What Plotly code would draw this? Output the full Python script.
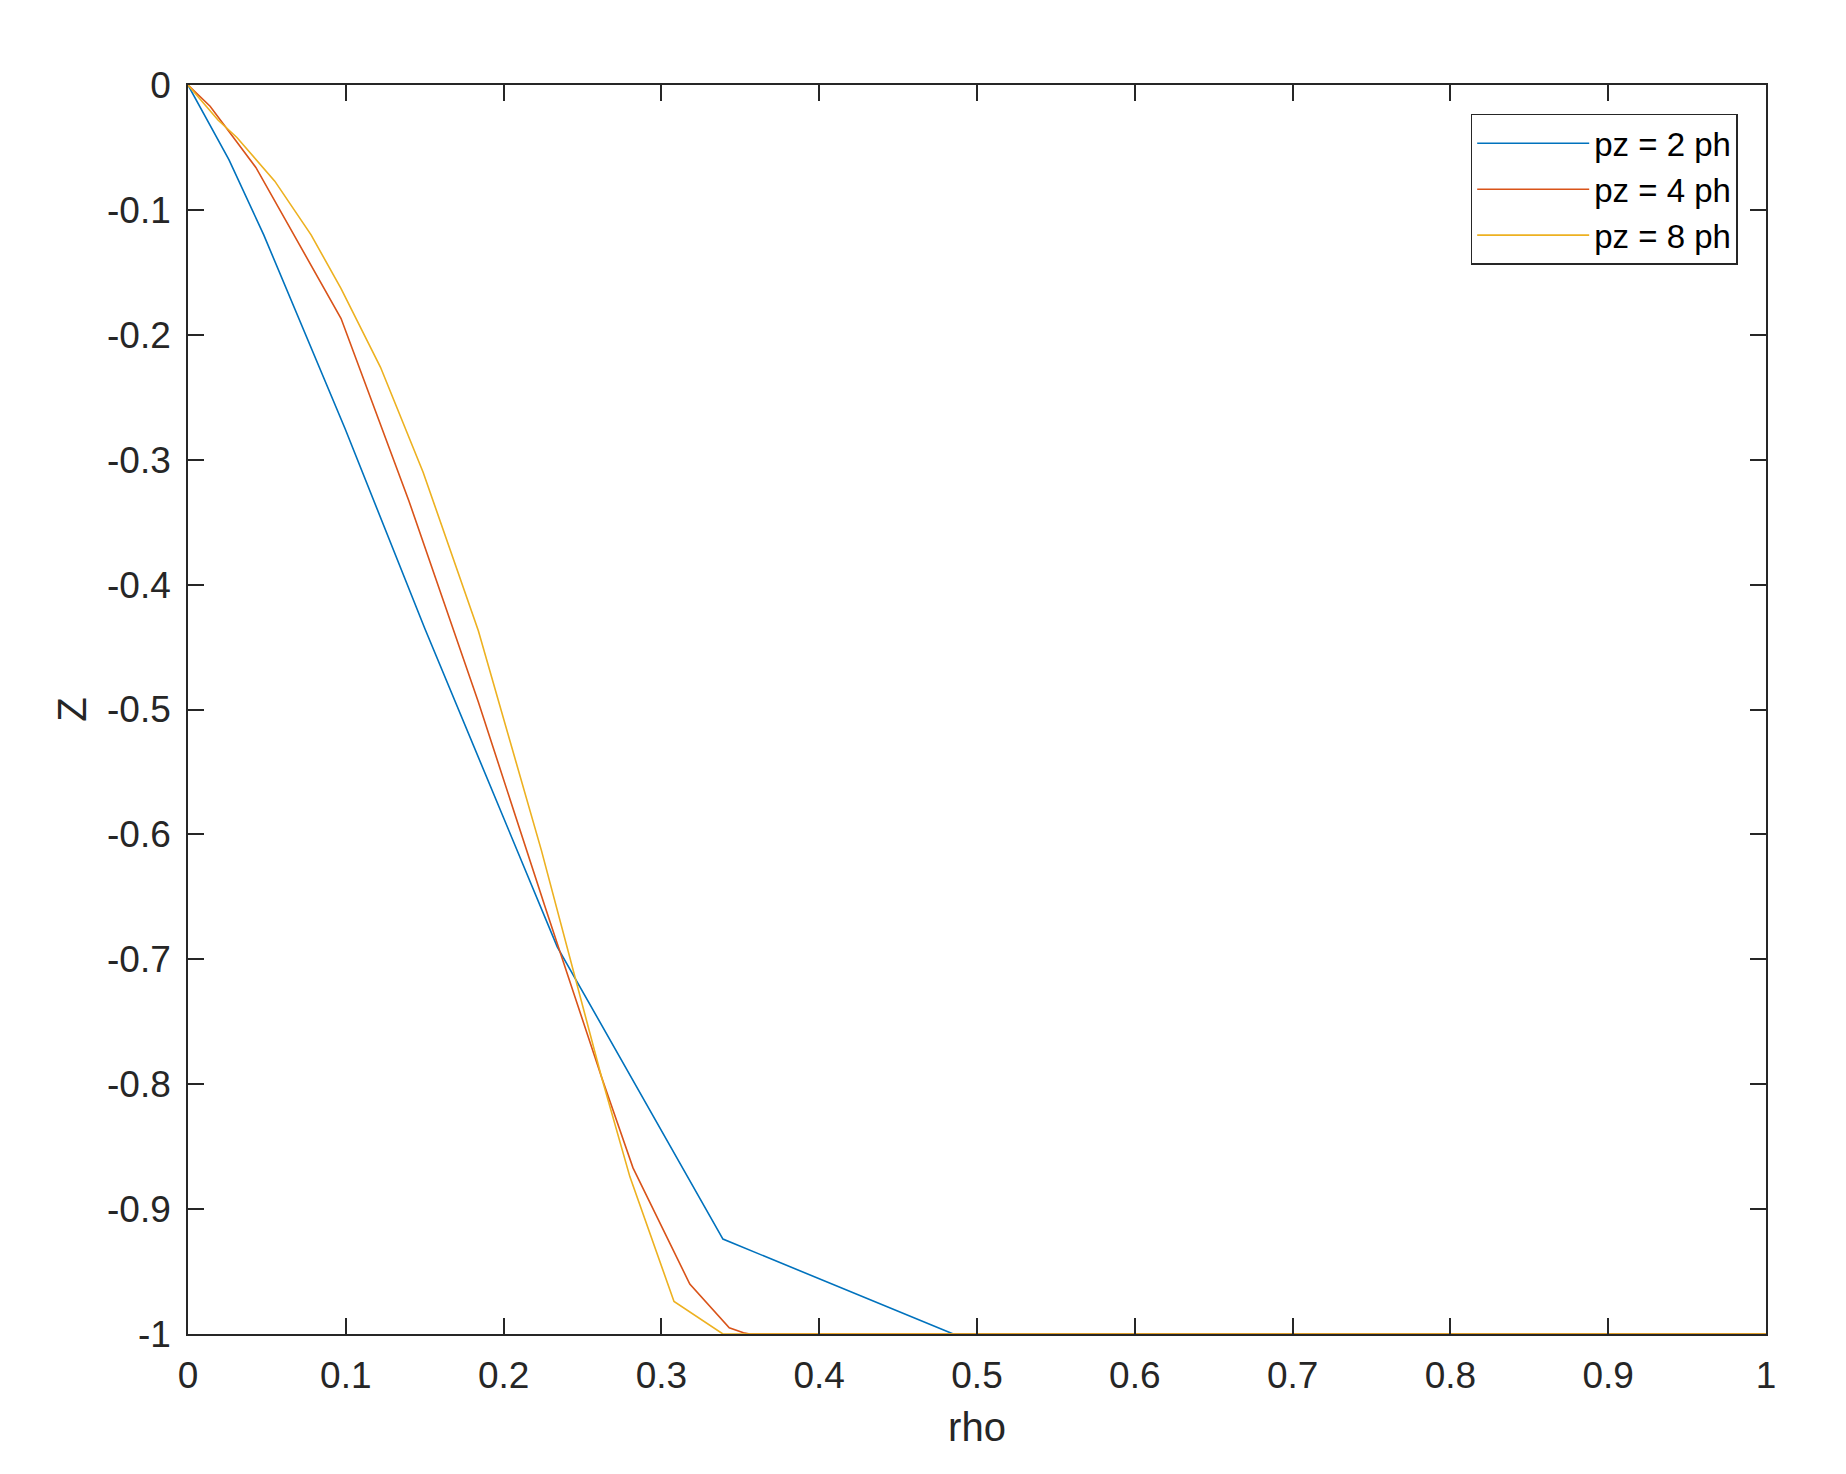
import plotly.graph_objects as go

# ---- data ----
rho_2 = [0.0, 0.011, 0.026, 0.048, 0.0995, 0.150, 0.203, 0.234, 0.339, 0.485, 1.0]
z_2 = [0.0, -0.025, -0.060, -0.120, -0.275, -0.435, -0.595, -0.690, -0.924, -1.0, -1.0]

rho_4 = [0.0, 0.014, 0.030, 0.043, 0.064, 0.097, 0.140, 0.184, 0.226, 0.262,
         0.282, 0.318, 0.343, 0.352, 0.356, 1.0]
z_4 = [0.0, -0.017, -0.044, -0.066, -0.113, -0.187, -0.333, -0.494, -0.657, -0.794,
       -0.867, -0.960, -0.995, -0.999, -1.0, -1.0]

rho_8 = [0.0, 0.019, 0.031, 0.055, 0.078, 0.097, 0.122, 0.149, 0.184, 0.224,
         0.262, 0.280, 0.308, 0.339, 1.0]
z_8 = [0.0, -0.028, -0.042, -0.077, -0.120, -0.163, -0.226, -0.310, -0.437, -0.613,
       -0.794, -0.874, -0.974, -1.0, -1.0]

series_names = ["pz = 2 ph", "pz = 4 ph", "pz = 8 ph"]
series_colors = ["#0072BD", "#D95319", "#EDB120"]

x_tickvals = [0, 0.1, 0.2, 0.3, 0.4, 0.5, 0.6, 0.7, 0.8, 0.9, 1]
x_ticktext = ["0", "0.1", "0.2", "0.3", "0.4", "0.5", "0.6", "0.7", "0.8", "0.9", "1"]
y_tickvals = [0, -0.1, -0.2, -0.3, -0.4, -0.5, -0.6, -0.7, -0.8, -0.9, -1]
y_ticktext = ["0", "-0.1", "-0.2", "-0.3", "-0.4", "-0.5", "-0.6", "-0.7", "-0.8", "-0.9", "-1"]

FONT = "Liberation Sans, Arial, Helvetica, sans-serif"
AXC = "#262626"

fig = go.Figure()
for xs, ys, name, col in zip([rho_2, rho_4, rho_8], [z_2, z_4, z_8], series_names, series_colors):
    fig.add_trace(go.Scatter(x=xs, y=ys, mode="lines", name=name,
                             line=dict(color=col, width=1.6)))

axis_common = dict(
    showgrid=False, zeroline=False, showline=True, linecolor=AXC, linewidth=1.6,
    mirror="ticks", ticks="inside", ticklen=16, tickwidth=1.6, tickcolor=AXC,
    tickfont=dict(family=FONT, size=37, color=AXC),
)

fig.update_layout(
    width=1846, height=1474,
    margin=dict(l=180, r=88, t=77, b=148),
    paper_bgcolor="white", plot_bgcolor="white",
    font=dict(family=FONT, color=AXC),
    xaxis=dict(range=[0, 1], tickvals=x_tickvals, ticktext=x_ticktext,
               title=dict(text="rho", font=dict(family=FONT, size=40, color=AXC), standoff=18),
               ticklabelstandoff=8,
               **axis_common),
    yaxis=dict(range=[-1, 0], tickvals=y_tickvals, ticktext=y_ticktext,
               title=dict(text="Z", font=dict(family=FONT, size=40, color=AXC), standoff=8),
               ticklabelstandoff=8,
               **axis_common),
    legend=dict(x=0.982, y=0.977, xanchor="right", yanchor="top",
                bgcolor="white", bordercolor=AXC, borderwidth=1.6,
                font=dict(family=FONT, size=33, color="black"),
                itemwidth=112, tracegroupgap=0),
    showlegend=True,
)

fig.write_html("out.html")
